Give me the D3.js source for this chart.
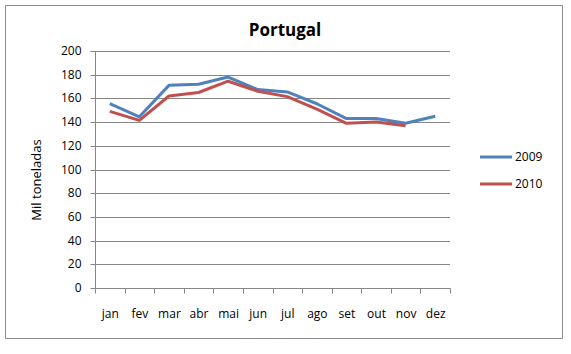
<!DOCTYPE html>
<html><head><meta charset="utf-8">
<script src="https://cdn.jsdelivr.net/npm/d3@7"></script>
<style>body{margin:0;background:#fff}svg{display:block}text{font-family:"Open Sans","Liberation Sans",sans-serif}</style>
</head><body><svg id="c" width="571" height="354"></svg>
<script>
const months = ["jan","fev","mar","abr","mai","jun","jul","ago","set","out","nov","dez"];
const s2009 = [155.5,144.5,171,172,178,167.5,165.5,155.5,143,143,139,145];
const s2010 = [149,141.5,162,165,174.5,166,161.5,151,139,140,137,null];
const yTicks = [0,20,40,60,80,100,120,140,160,180,200];
const seriesNames = ["2009","2010"];
const colors = ["#4F81BD","#C0504D"];

const svg = d3.select("#c");
const L=95,R=450,T=51,B=288;
svg.append("rect").attr("x",5.5).attr("y",5.5).attr("width",557).attr("height",333)
  .attr("fill","#fff").attr("stroke","#8c8c8c");
const x = d3.scaleBand().domain(months).range([L,R]);
const y = d3.scaleLinear().domain([0,200]).range([B,T]);

// gridlines
svg.append("g").selectAll("line").data(yTicks.filter(d=>d>0)).join("line")
  .attr("x1",L).attr("x2",R).attr("y1",d=>Math.round(y(d))+0.5).attr("y2",d=>Math.round(y(d))+0.5)
  .attr("stroke","#868686");

const ya = svg.append("g").attr("transform",`translate(${L+0.5},0.5)`)
  .call(d3.axisLeft(y).tickValues(yTicks).tickSize(5).tickPadding(9).tickFormat(d3.format("d")));
ya.select(".domain").attr("stroke","#868686").attr("d",`M-5,${y(200)}H0V${y(0)}`);
ya.selectAll(".tick line").attr("stroke","#868686");
ya.selectAll("text").attr("font-size",12).attr("fill","#000");
ya.selectAll(".tick").attr("transform",d=>`translate(0,${Math.round(y(d))})`);

const xa = svg.append("g").attr("transform",`translate(0.5,${B+0.5})`);
xa.append("line").attr("x1",L).attr("x2",R).attr("stroke","#868686");
const edges = months.map(m=>x(m)).concat([R]);
xa.selectAll("line.t").data(edges).join("line").attr("class","t")
  .attr("x1",d=>Math.round(d)).attr("x2",d=>Math.round(d)).attr("y1",0).attr("y2",5).attr("stroke","#868686");
xa.selectAll("text").data(months).join("text")
  .attr("x",d=>x(d)+x.bandwidth()/2).attr("y",29).attr("text-anchor","middle")
  .attr("font-size",12).attr("fill","#000").text(d=>d);

const line = d3.line().defined(d=>d.v!=null).x(d=>x(d.m)+x.bandwidth()/2).y(d=>y(d.v));
[s2009,s2010].forEach((s,i)=>{
  svg.append("path").datum(months.map((m,j)=>({m,v:s[j]})))
    .attr("d",line).attr("fill","none").attr("stroke",colors[i]).attr("stroke-width",3)
    .attr("stroke-linejoin","round");
});

// legend
seriesNames.forEach((n,i)=>{
  const ly = 157 + i*27;
  svg.append("line").attr("x1",480).attr("x2",512).attr("y1",ly).attr("y2",ly)
    .attr("stroke",colors[i]).attr("stroke-width",3);
  svg.append("text").attr("x",515).attr("y",ly+4).attr("font-size",12).text(n);
});

svg.append("text").attr("x",285).attr("y",36).attr("text-anchor","middle")
  .attr("font-size",17).attr("font-weight","bold").text("Portugal");
svg.append("text").attr("transform","translate(41,180) rotate(-90)").attr("text-anchor","middle")
  .attr("font-size",13).text("Mil toneladas");
</script></body></html>
